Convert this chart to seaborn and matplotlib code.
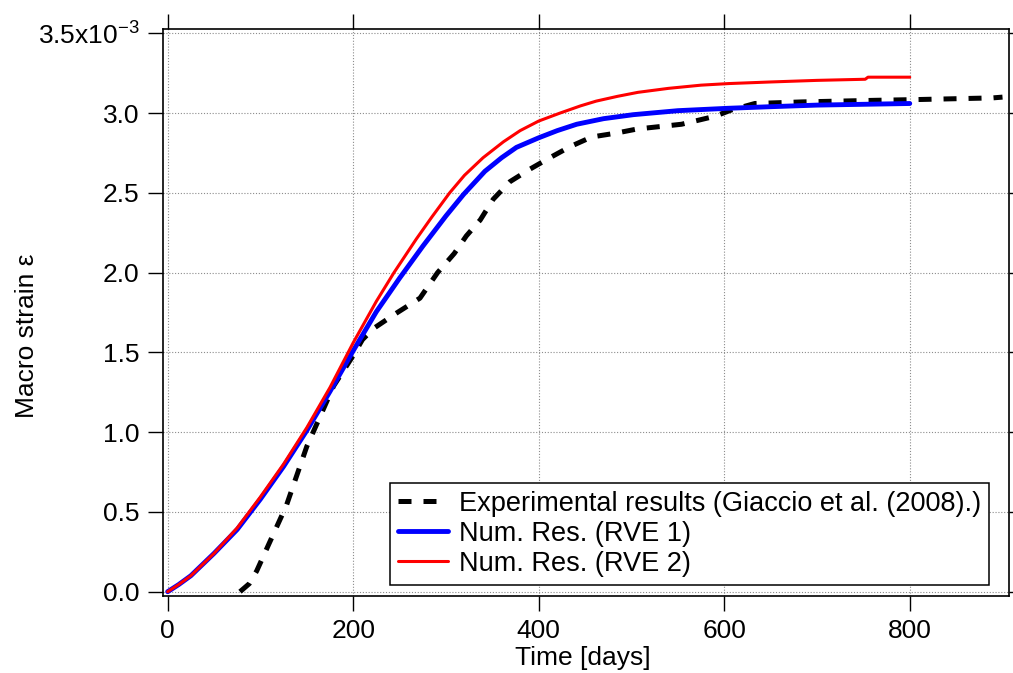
import numpy as np
import pandas as pd
import matplotlib
matplotlib.use("Agg")
import matplotlib.pyplot as plt
import seaborn as sns

# ---------------- data (strain in units of 1e-3) ----------------
t_exp = [78, 88, 96, 110, 128, 150, 179, 200, 210, 222, 245, 272, 291, 309,
         322, 337, 351, 369, 391, 412, 434, 457, 484, 506, 554, 590, 608,
         633, 684, 763, 810, 889, 900]
eps_exp = [0.0, 0.05, 0.13, 0.31, 0.54, 0.91, 1.29, 1.48, 1.58, 1.65, 1.74,
           1.84, 2.00, 2.12, 2.23, 2.33, 2.46, 2.57, 2.65, 2.72, 2.79, 2.85,
           2.875, 2.90, 2.93, 2.98, 3.02, 3.06, 3.07, 3.08, 3.085, 3.095,
           3.10]

t_rve1 = [0, 12, 25, 50, 75, 100, 125, 150, 175, 200, 225, 250, 275, 300,
          319, 342, 360, 376, 400, 420, 441, 470, 502, 550, 604, 650, 700,
          750, 800]
eps_rve1 = [0.0, 0.045, 0.10, 0.24, 0.39, 0.58, 0.785, 1.01, 1.255, 1.51,
            1.755, 1.965, 2.165, 2.355, 2.49, 2.635, 2.72, 2.785, 2.845,
            2.89, 2.93, 2.965, 2.99, 3.015, 3.03, 3.04, 3.05, 3.055, 3.06]

t_rve2 = [0, 12, 25, 50, 75, 100, 125, 150, 175, 200, 225, 244, 268, 285,
          304, 320, 340, 362, 380, 400, 423, 445, 462, 485, 507, 540, 575,
          605, 650, 700, 752, 755, 800]
eps_rve2 = [0.0, 0.045, 0.10, 0.24, 0.40, 0.594, 0.80, 1.028, 1.28, 1.56,
            1.82, 2.00, 2.21, 2.35, 2.50, 2.61, 2.72, 2.82, 2.89, 2.95, 3.00,
            3.045, 3.075, 3.105, 3.13, 3.155, 3.175, 3.185, 3.195, 3.205,
            3.212, 3.225, 3.225]

labels = ["Experimental results (Giaccio et al. (2008).)",
          "Num. Res. (RVE 1)", "Num. Res. (RVE 2)"]
x_ticks = [0, 200, 400, 600, 800]
y_ticks = [0.0, 0.5, 1.0, 1.5, 2.0, 2.5, 3.0, 3.5]
y_tick_labels = ["0.0", "0.5", "1.0", "1.5", "2.0", "2.5", "3.0",
                 "3.5x10$^{\\mathregular{-3}}$"]

SCALE = 1e-3
df_exp = pd.DataFrame({"t": t_exp, "eps": np.array(eps_exp) * SCALE})
df_r1 = pd.DataFrame({"t": t_rve1, "eps": np.array(eps_rve1) * SCALE})
df_r2 = pd.DataFrame({"t": t_rve2, "eps": np.array(eps_rve2) * SCALE})

# ---------------- style ----------------
sns.set_style("ticks")
plt.rcParams["font.family"] = ["Liberation Sans", "DejaVu Sans"]
plt.rcParams["mathtext.default"] = "regular"
for k in ["text.color", "axes.labelcolor", "xtick.color", "ytick.color",
          "axes.edgecolor"]:
    plt.rcParams[k] = "black"

fig = plt.figure(figsize=(10.13, 6.73), dpi=100)
ax = fig.add_axes([163 / 1013, 77 / 673, 846 / 1013, 567 / 673])

sns.lineplot(data=df_exp, x="t", y="eps", ax=ax, color="black", lw=3.6,
             linestyle=(0, (2.6, 2.4)), label=labels[0], sort=False,
             estimator=None)
sns.lineplot(data=df_r1, x="t", y="eps", ax=ax, color="#0000ff", lw=3.5,
             label=labels[1], sort=False, estimator=None)
sns.lineplot(data=df_r2, x="t", y="eps", ax=ax, color="#ff0000", lw=2.2,
             label=labels[2], sort=False, estimator=None)

ax.set_xlim(-5, 907)
ax.set_ylim(-0.027 * SCALE, 3.527 * SCALE)
ax.set_xticks(x_ticks)
ax.set_xticklabels([str(v) for v in x_ticks])
ax.set_yticks([v * SCALE for v in y_ticks])
ax.set_yticklabels(y_tick_labels)

for s in ax.spines.values():
    s.set_visible(True)
    s.set_linewidth(1.2)
    s.set_color("black")

ax.tick_params(axis="both", which="major", direction="out", length=10.8,
               width=1.0, color="black", labelcolor="black", labelsize=19,
               pad=6.0, top=True, right=True, labeltop=False,
               labelright=False)
ax.minorticks_off()

ax.grid(True, which="major", color="#8c8c8c", linestyle=(0, (1, 1.6)),
        linewidth=0.8)
ax.set_axisbelow(True)

ax.set_xlabel("Time [days]", fontsize=19, color="black")
ax.set_ylabel("Macro strain ε", fontsize=19, color="black")
ax.xaxis.set_label_coords(0.4965, -0.089)
ax.yaxis.set_label_coords(-0.147, 0.459)

leg = ax.legend(loc="lower right", bbox_to_anchor=(0.9764, 0.0194),
                borderaxespad=0, fontsize=19.5, frameon=True, fancybox=False,
                shadow=False, handlelength=1.85, handletextpad=0.4,
                labelspacing=0.15, borderpad=0.3)
fr = leg.get_frame()
fr.set_edgecolor("black")
fr.set_linewidth(1.1)
fr.set_facecolor("white")
fr.set_alpha(1.0)
for txt in leg.get_texts():
    txt.set_color("black")

fig.savefig("out.png", dpi=100)
